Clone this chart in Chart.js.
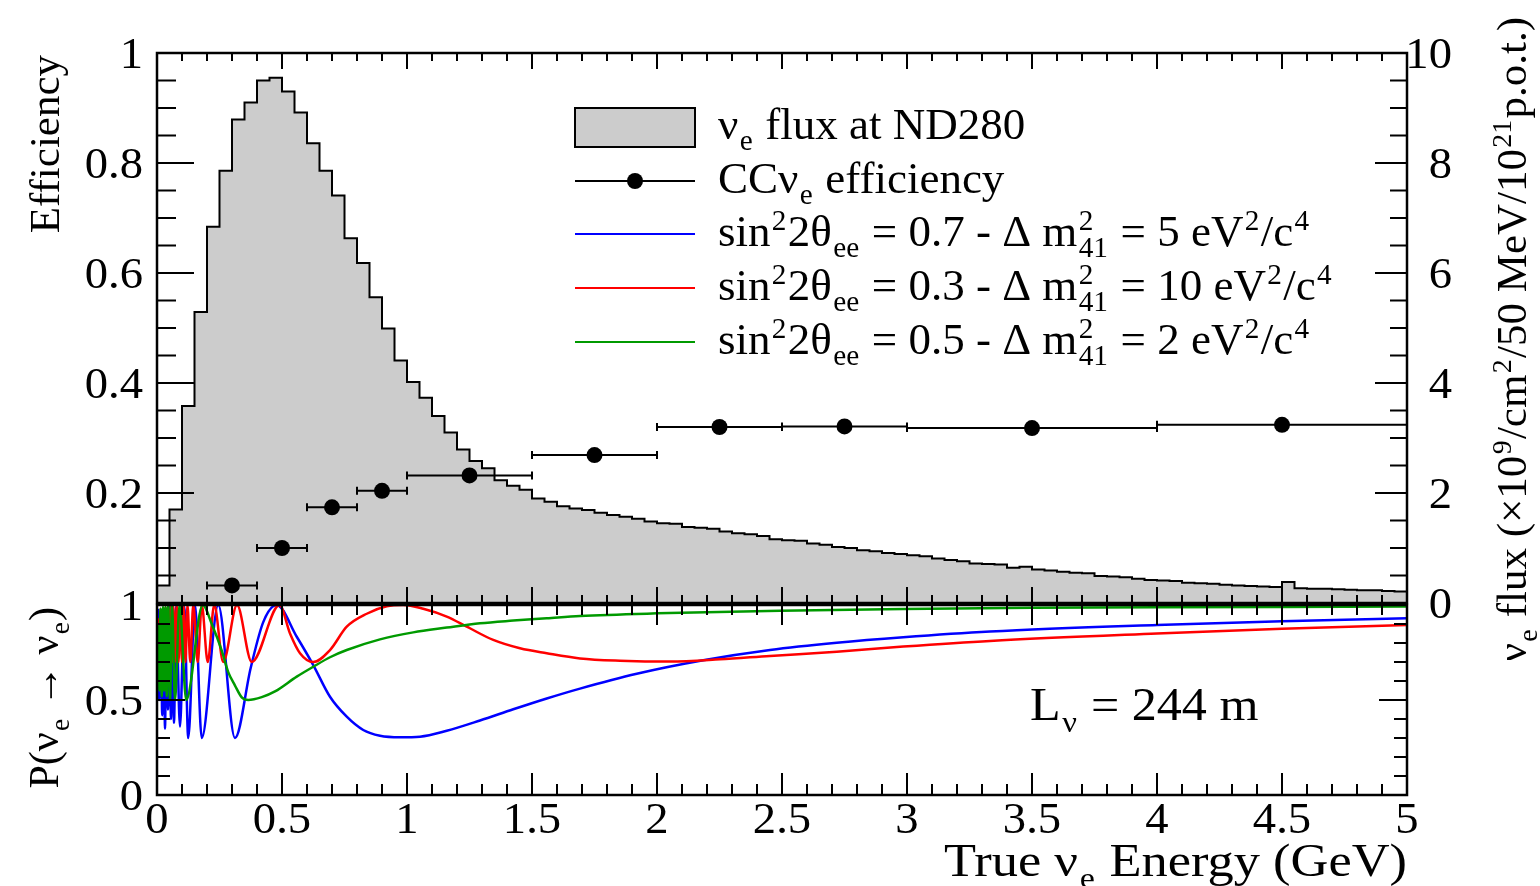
<!DOCTYPE html>
<html>
<head>
<meta charset="utf-8">
<title>nu_e flux, CC efficiency and oscillation probability</title>
<script src="https://cdn.jsdelivr.net/npm/chart.js@4.4.1/dist/chart.umd.min.js"></script>
<style>
  html, body { margin: 0; padding: 0; background: #ffffff; }
  .pad { position: absolute; left: 0; width: 1540px; }
  #top-pad { top: 0; height: 660px; }
  #bottom-pad { top: 560px; height: 326px; }
</style>
</head>
<body>
<div class="pad" id="top-pad"><canvas id="flux-chart"></canvas></div>
<div class="pad" id="bottom-pad"><canvas id="prob-chart"></canvas></div>
<script>
// ---- data ----
const binWidth = 0.05; // GeV, 50 MeV bins from 0 to 5 GeV
const fluxValues = [
  0.32, 1.70, 3.58, 5.29, 6.84, 7.86, 8.79, 9.10, 9.50, 9.55,
  9.30, 8.92, 8.36, 7.86, 7.41, 6.63, 6.18, 5.56, 4.99, 4.41,
  4.02, 3.73, 3.40, 3.10, 2.79, 2.58, 2.45, 2.23, 2.13, 2.06,
  1.90, 1.84, 1.76, 1.72, 1.69, 1.64, 1.60, 1.57, 1.53, 1.48,
  1.45, 1.44, 1.38, 1.37, 1.35, 1.30, 1.27, 1.25, 1.22, 1.16,
  1.14, 1.13, 1.08, 1.06, 1.02, 1.00, 0.96, 0.94, 0.91, 0.89,
  0.87, 0.85, 0.81, 0.78, 0.76, 0.72, 0.71, 0.70, 0.64, 0.66,
  0.61, 0.59, 0.57, 0.55, 0.54, 0.49, 0.48, 0.47, 0.44, 0.42,
  0.41, 0.40, 0.37, 0.36, 0.35, 0.33, 0.32, 0.31, 0.30, 0.29,
  0.38, 0.27, 0.26, 0.26, 0.25, 0.24, 0.23, 0.23, 0.22, 0.21
];

const effEnergy = [0.3, 0.5, 0.7, 0.9, 1.25, 1.75, 2.25, 2.75, 3.5, 4.5];
const effLow    = [0.2, 0.4, 0.6, 0.8, 1.0, 1.5, 2.0, 2.5, 3.0, 4.0];
const effHigh   = [0.4, 0.6, 0.8, 1.0, 1.5, 2.0, 2.5, 3.0, 4.0, 5.0];
const effValues = [0.032, 0.100, 0.174, 0.204, 0.232, 0.269, 0.320, 0.321, 0.318, 0.324];

// sin^2 2theta = 0.7, dm2 = 5
const blueEnergy = [0.003, 0.009, 0.015, 0.021, 0.027, 0.032, 0.038, 0.044, 0.050, 0.056,
  0.062, 0.068, 0.076, 0.092, 0.109, 0.125, 0.152, 0.179, 0.245, 0.312,
  0.375, 0.425, 0.479, 0.559, 0.625, 0.692, 0.759, 0.825, 0.892, 0.972,
  1.052, 1.159, 1.292, 1.425, 1.559, 1.692, 1.919, 2.185, 2.452, 2.719,
  2.985, 3.332, 4.0, 4.5, 5.0];
const blueProb = [0.98, 0.50, 0.97, 0.42, 0.98, 0.35, 0.98, 0.45, 0.99, 0.40,
  0.98, 0.38, 0.99, 0.36, 0.99, 0.30, 1.0, 0.30, 1.0, 0.30,
  0.67, 0.91, 1.0, 0.833, 0.684, 0.517, 0.412, 0.342, 0.312, 0.304,
  0.307, 0.338, 0.392, 0.451, 0.508, 0.560, 0.638, 0.709, 0.763, 0.801,
  0.830, 0.860, 0.895, 0.915, 0.930];

// sin^2 2theta = 0.3, dm2 = 10
const redEnergy = [0.004, 0.009, 0.014, 0.019, 0.024, 0.029, 0.034, 0.039, 0.044, 0.049,
  0.055, 0.060, 0.066, 0.072, 0.079, 0.086, 0.093, 0.100, 0.106, 0.114,
  0.122, 0.133, 0.145, 0.163, 0.179, 0.203, 0.229, 0.265, 0.320, 0.379,
  0.490, 0.532, 0.572, 0.625, 0.692, 0.759, 0.839, 0.919, 0.985, 1.065,
  1.159, 1.239, 1.345, 1.452, 1.559, 1.692, 1.852, 2.052, 2.252, 2.452,
  2.719, 2.985, 3.332, 4.0, 4.5, 5.0];
const redProb = [0.93, 0.72, 0.98, 0.70, 0.97, 0.72, 0.99, 0.70, 0.98, 0.71,
  1.0, 0.70, 0.99, 0.70, 1.0, 0.70, 1.0, 0.70, 1.0, 0.70,
  1.0, 0.70, 1.0, 0.70, 1.0, 0.70, 1.0, 0.70, 1.0, 0.70,
  1.0, 0.85, 0.746, 0.70, 0.763, 0.886, 0.954, 0.993, 1.0, 0.98,
  0.939, 0.886, 0.816, 0.772, 0.746, 0.719, 0.707, 0.702, 0.714, 0.732,
  0.754, 0.781, 0.811, 0.85, 0.875, 0.895];

// sin^2 2theta = 0.5, dm2 = 2
const greenEnergy = [0.004, 0.009, 0.014, 0.019, 0.024, 0.029, 0.034, 0.039, 0.045, 0.052,
  0.060, 0.072, 0.090, 0.117, 0.183, 0.219, 0.259, 0.285, 0.312, 0.339,
  0.365, 0.419, 0.472, 0.559, 0.625, 0.692, 0.759, 0.892, 1.025, 1.159,
  1.292, 1.425, 1.559, 1.692, 2.0, 2.492, 2.985, 3.5, 4.0, 4.5, 5.0];
const greenProb = [0.90, 0.55, 0.98, 0.52, 0.99, 0.55, 0.99, 0.52, 1.0, 0.50,
  1.0, 0.50, 1.0, 0.50, 1.0, 0.90, 0.76, 0.647, 0.576, 0.514,
  0.50, 0.515, 0.545, 0.623, 0.675, 0.725, 0.763, 0.819, 0.856, 0.881,
  0.904, 0.918, 0.930, 0.942, 0.956, 0.970, 0.979, 0.985, 0.988, 0.990, 0.992];

const xTickValues = [0, 0.5, 1, 1.5, 2, 2.5, 3, 3.5, 4, 4.5, 5];
const effTickValues = [0.2, 0.4, 0.6, 0.8, 1];
const fluxTickValues = [0, 2, 4, 6, 8, 10];
const probTickValues = [0, 0.5, 1];

const curveColors = { blue: '#0000ff', red: '#ff0000', green: '#009a00' };

// ---- text with sub/superscripts ----
const SERIF = '"Liberation Serif", "Times New Roman", serif';
function setFont(ctx, px) { ctx.font = px + 'px ' + SERIF; }

function partsWidth(ctx, parts, size) {
  let w = 0;
  parts.forEach(p => {
    if (typeof p === 'string') {
      setFont(ctx, size);
      w += ctx.measureText(p).width;
    } else {
      setFont(ctx, size * 0.65);
      const a = p.sup ? ctx.measureText(p.sup).width : 0;
      const b = p.sub ? ctx.measureText(p.sub).width : 0;
      w += Math.max(a, b) + size * 0.06;
    }
  });
  return w;
}

function drawRich(ctx, parts, x, y, size, align) {
  let cx = x;
  const w = partsWidth(ctx, parts, size);
  if (align === 'right') cx -= w;
  else if (align === 'center') cx -= w / 2;
  ctx.textAlign = 'left';
  ctx.textBaseline = 'alphabetic';
  parts.forEach(p => {
    if (typeof p === 'string') {
      setFont(ctx, size);
      ctx.fillText(p, cx, y);
      cx += ctx.measureText(p).width;
    } else {
      setFont(ctx, size * 0.65);
      let adv = 0;
      if (p.sup) {
        ctx.fillText(p.sup, cx + size * 0.03, y - size * 0.36);
        adv = Math.max(adv, ctx.measureText(p.sup).width);
      }
      if (p.sub) {
        ctx.fillText(p.sub, cx + size * 0.03, y + size * 0.25);
        adv = Math.max(adv, ctx.measureText(p.sub).width);
      }
      cx += adv + size * 0.06;
    }
  });
}

// horizontally widened text, like the stretched original
function drawWide(ctx, parts, x, y, size, align, stretch) {
  ctx.save();
  ctx.translate(x, y);
  ctx.scale(stretch, 1);
  drawRich(ctx, parts, 0, 0, size, align);
  ctx.restore();
}

function drawRotated(ctx, parts, x, y, size) {
  ctx.save();
  ctx.translate(x, y);
  ctx.rotate(-Math.PI / 2);
  drawRich(ctx, parts, 0, 0, size, 'right');
  ctx.restore();
}

// inside ticks, ROOT style
function drawTicks(ctx, scale, side, a, min, max, majorStep, minorStep, majorLen, minorLen) {
  const n = Math.round((max - min) / minorStep);
  const per = Math.round(majorStep / minorStep);
  ctx.beginPath();
  for (let i = 0; i <= n; i++) {
    const p = scale.getPixelForValue(min + i * minorStep);
    const len = i % per === 0 ? majorLen : minorLen;
    if (side === 'bottom') { ctx.moveTo(p, a.bottom); ctx.lineTo(p, a.bottom - len); }
    if (side === 'top') { ctx.moveTo(p, a.top); ctx.lineTo(p, a.top + len); }
    if (side === 'left') { ctx.moveTo(a.left, p); ctx.lineTo(a.left + len, p); }
    if (side === 'right') { ctx.moveTo(a.right, p); ctx.lineTo(a.right - len, p); }
  }
  ctx.stroke();
}

function tickLabel(ctx, text, x, y, align) {
  drawWide(ctx, [text], x, y + 15, 44, align, 1.06);
}

const effTitle = ['Efficiency'];
const fluxTitle = ['ν', {sub: 'e'}, ' flux (×10', {sup: '9'}, '/cm', {sup: '2'}, '/50 MeV/10', {sup: '21'}, 'p.o.t.)'];
const probTitle = ['P(ν', {sub: 'e'}, ' → ν', {sub: 'e'}, ')'];
const xTitle = ['True ν', {sub: 'e'}, ' Energy (GeV)'];
const baselineText = ['L', {sub: 'ν'}, ' = 244 m'];
const legendLabels = [
  ['ν', {sub: 'e'}, ' flux at ND280'],
  ['CCν', {sub: 'e'}, ' efficiency'],
  ['sin', {sup: '2'}, '2θ', {sub: 'ee'}, ' = 0.7 - Δ m', {sup: '2', sub: '41'}, ' = 5 eV', {sup: '2'}, '/c', {sup: '4'}],
  ['sin', {sup: '2'}, '2θ', {sub: 'ee'}, ' = 0.3 - Δ m', {sup: '2', sub: '41'}, ' = 10 eV', {sup: '2'}, '/c', {sup: '4'}],
  ['sin', {sup: '2'}, '2θ', {sub: 'ee'}, ' = 0.5 - Δ m', {sup: '2', sub: '41'}, ' = 2 eV', {sup: '2'}, '/c', {sup: '4'}]
];

function drawLegend(ctx) {
  const rowY = [127, 181, 234, 288, 342];
  ctx.lineWidth = 2;
  ctx.strokeStyle = '#000';
  ctx.fillStyle = '#cccccc';
  ctx.fillRect(575, 108, 120, 39);
  ctx.strokeRect(575, 108, 120, 39);

  ctx.beginPath();
  ctx.moveTo(575, rowY[1]); ctx.lineTo(695, rowY[1]);
  ctx.stroke();
  ctx.fillStyle = '#000';
  ctx.beginPath();
  ctx.arc(635, rowY[1], 8, 0, Math.PI * 2);
  ctx.fill();

  [curveColors.blue, curveColors.red, curveColors.green].forEach((c, i) => {
    ctx.strokeStyle = c;
    ctx.beginPath();
    ctx.moveTo(575, rowY[i + 2]); ctx.lineTo(695, rowY[i + 2]);
    ctx.stroke();
  });

  ctx.fillStyle = '#000';
  legendLabels.forEach((parts, i) => drawRich(ctx, parts, 718, rowY[i] + 12, 45, 'left'));
}

// ---- top pad: flux histogram + efficiency ----
const histPoints = [{x: 0, y: 0}].concat(fluxValues.map((v, k) => ({x: (k + 1) * binWidth, y: v})));
const effPoints = effEnergy.map((e, i) => ({x: e, y: effValues[i]}));

const topDecor = {
  id: 'topDecor',
  afterDatasetsDraw(chart) {
    const ctx = chart.ctx;
    const sx = chart.scales.x, se = chart.scales.yEff;
    ctx.save();
    ctx.strokeStyle = '#000';
    ctx.lineWidth = 2;
    ctx.beginPath();
    effValues.forEach((v, i) => {
      const py = se.getPixelForValue(v);
      const x1 = sx.getPixelForValue(effLow[i]);
      const x2 = sx.getPixelForValue(effHigh[i]);
      ctx.moveTo(x1, py); ctx.lineTo(x2, py);
      ctx.moveTo(x1, py - 4); ctx.lineTo(x1, py + 4);
      ctx.moveTo(x2, py - 4); ctx.lineTo(x2, py + 4);
    });
    ctx.stroke();
    ctx.restore();
  },
  afterDraw(chart) {
    const ctx = chart.ctx, a = chart.chartArea;
    const sx = chart.scales.x, se = chart.scales.yEff, sf = chart.scales.yFlux;
    ctx.save();
    ctx.strokeStyle = '#000';
    ctx.fillStyle = '#000';
    ctx.lineWidth = 2;
    drawTicks(ctx, sx, 'bottom', a, 0, 5, 0.5, 0.1, 16, 8);
    drawTicks(ctx, sx, 'top', a, 0, 5, 0.5, 0.1, 16, 8);
    drawTicks(ctx, se, 'left', a, 0, 1, 0.2, 0.05, 37, 19);
    drawTicks(ctx, sf, 'right', a, 0, 10, 2, 0.5, 32, 17);
    ctx.lineWidth = 2.5;
    ctx.strokeRect(a.left, a.top, a.right - a.left, a.bottom - a.top);

    effTickValues.forEach(v => tickLabel(ctx, String(v), 143, se.getPixelForValue(v), 'right'));
    fluxTickValues.forEach(v => tickLabel(ctx, String(v), 1452, sf.getPixelForValue(v), 'right'));

    drawRotated(ctx, effTitle, 59, 55, 43);
    drawRotated(ctx, fluxTitle, 1526, 17, 43);
    drawLegend(ctx);
    ctx.restore();
  }
};

new Chart(document.getElementById('flux-chart'), {
  type: 'line',
  data: {
    datasets: [{
      data: histPoints,
      yAxisID: 'yFlux',
      stepped: 'after',
      fill: 'origin',
      backgroundColor: '#cccccc',
      borderColor: '#000000',
      borderWidth: 2,
      pointRadius: 0,
      order: 2
    }, {
      data: effPoints,
      yAxisID: 'yEff',
      showLine: false,
      pointRadius: 8,
      pointBackgroundColor: '#000000',
      pointBorderColor: '#000000',
      pointBorderWidth: 0,
      order: 1
    }]
  },
  options: {
    responsive: true,
    maintainAspectRatio: false,
    animation: false,
    events: [],
    layout: { padding: { left: 157, right: 133, top: 53, bottom: 57 } },
    plugins: { legend: { display: false }, tooltip: { enabled: false } },
    scales: {
      x: { type: 'linear', min: 0, max: 5, display: false },
      yEff: { type: 'linear', position: 'left', min: 0, max: 1, display: false },
      yFlux: { type: 'linear', position: 'right', min: 0, max: 10, display: false }
    }
  },
  plugins: [topDecor]
});

// ---- bottom pad: survival probability ----
function curve(energies, probs) {
  return energies.map((e, i) => ({x: e, y: probs[i]}));
}

const bottomDecor = {
  id: 'bottomDecor',
  afterDraw(chart) {
    const ctx = chart.ctx, a = chart.chartArea;
    const sx = chart.scales.x, sp = chart.scales.y;
    ctx.save();
    ctx.strokeStyle = '#000';
    ctx.fillStyle = '#000';
    ctx.lineWidth = 2;
    drawTicks(ctx, sx, 'bottom', a, 0, 5, 0.5, 0.1, 22, 11);
    drawTicks(ctx, sx, 'top', a, 0, 5, 0.5, 0.1, 20, 10);
    drawTicks(ctx, sp, 'left', a, 0, 1, 0.5, 0.1, 28, 13);
    drawTicks(ctx, sp, 'right', a, 0, 1, 0.5, 0.1, 28, 13);
    ctx.lineWidth = 2.5;
    ctx.strokeRect(a.left, a.top, a.right - a.left, a.bottom - a.top);

    probTickValues.forEach(v => tickLabel(ctx, String(v), 143, sp.getPixelForValue(v), 'right'));
    xTickValues.forEach(v => tickLabel(ctx, String(v), sx.getPixelForValue(v), 258, 'center'));

    drawWide(ctx, xTitle, 1407, 316, 46, 'right', 1.14);
    drawRotated(ctx, probTitle, 58, 47, 42);
    drawWide(ctx, baselineText, 1030, 160, 46, 'left', 1.09);
    ctx.restore();
  }
};

const lineStyle = { pointRadius: 0, borderWidth: 2.5, fill: false, cubicInterpolationMode: 'monotone' };

new Chart(document.getElementById('prob-chart'), {
  type: 'line',
  data: {
    datasets: [
      Object.assign({ data: curve(blueEnergy, blueProb), borderColor: curveColors.blue, order: 3 }, lineStyle),
      Object.assign({ data: curve(redEnergy, redProb), borderColor: curveColors.red, order: 2 }, lineStyle),
      Object.assign({ data: curve(greenEnergy, greenProb), borderColor: curveColors.green, order: 1 }, lineStyle)
    ]
  },
  options: {
    responsive: true,
    maintainAspectRatio: false,
    animation: false,
    events: [],
    layout: { padding: { left: 157, right: 133, top: 45, bottom: 91 } },
    plugins: { legend: { display: false }, tooltip: { enabled: false } },
    scales: {
      x: { type: 'linear', min: 0, max: 5, display: false },
      y: { type: 'linear', min: 0, max: 1, display: false }
    }
  },
  plugins: [bottomDecor]
});
</script>
</body>
</html>
